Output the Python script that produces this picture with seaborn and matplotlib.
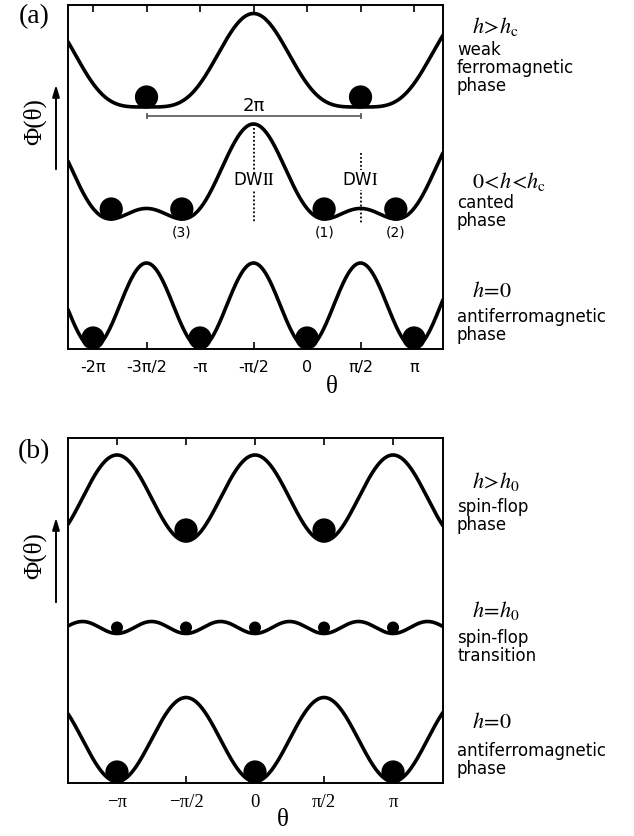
import numpy as np
import pandas as pd
import seaborn as sns
import matplotlib
matplotlib.use("Agg")
import matplotlib.pyplot as plt

# ---- panel (a): Phi(theta) = sin^2(theta) - h sin(theta) ----
a_fields = [2.0, 1.0, 0.0]
a_math = [r"$h\!>\!h_{\rm c}$", r"$0\!<\!h\!<\!h_{\rm c}$", r"$h\!=\!0$"]
a_phase = ["weak\nferromagnetic\nphase", "canted\nphase", "antiferromagnetic\nphase"]
a_balls = [[-1.5, 0.5], [-1.83, -1.17, 0.16, 0.83], [-2.0, -1.0, 0.0, 1.0]]  # theta / pi
a_tag_pos = [-1.17, 0.16, 0.83]
a_tags = ["(3)", "(1)", "(2)"]
a_ticks = [-2.0, -1.5, -1.0, -0.5, 0.0, 0.5, 1.0]
a_ticklabels = ["-2π", "-3π/2", "-π", "-π/2", "0", "π/2", "π"]

# ---- panel (b): Phi(theta) = A sin^2(theta) + B sin^2(2 theta) ----
b_coef_a = [-1.0, 0.0, 1.0]
b_coef_b = [0.0, 1.0, 0.0]
b_math = [r"$h\!>\!h_0$", r"$h\!=\!h_0$", r"$h\!=\!0$"]
b_phase = ["spin-flop\nphase", "spin-flop\ntransition", "antiferromagnetic\nphase"]
b_balls = [[-0.5, 0.5], [-1.0, -0.5, 0.0, 0.5, 1.0], [-1.0, 0.0, 1.0]]
b_ticks = [-1.0, -0.5, 0.0, 0.5, 1.0]
b_ticklabels = ["−π", "−π/2", "0", "π/2", "π"]

# layout (pixel based vertical placement of each curve)
a_base, a_height = [242, 130, 1.5], [93.5, 95, 84.5]
b_base, b_height = [242, 149.5, 1.5], [86, 12, 84]
a_xlim, b_xlim = (-2.234, 1.271), (-1.355, 1.362)

sns.set_style("ticks")
plt.rcParams["font.family"] = ["DejaVu Sans"]
plt.rcParams["mathtext.fontset"] = "stix"
for k in ["text.color", "axes.labelcolor", "xtick.color", "ytick.color", "axes.edgecolor"]:
    plt.rcParams[k] = "black"

W, H = 634, 836
fig = plt.figure(figsize=(W / 100, H / 100), dpi=100)


def fx(x):
    return x / W


def fy(y):
    return 1 - y / H


def pot_a(t, h):
    return np.sin(t) ** 2 - h * np.sin(t)


def pot_b(t, ca, cb):
    return ca * np.sin(t) ** 2 + cb * np.sin(2 * t) ** 2


def draw_panel(ax, xlim, funcs, params, base, height, balls, ball_sizes, ball_off):
    grid = np.linspace(xlim[0], xlim[1], 800)
    rows, brows = [], []
    for i, p in enumerate(params):
        phi = funcs(grid * np.pi, *p)
        lo, hi = phi.min(), phi.max()
        y = base[i] + height[i] * (phi - lo) / (hi - lo)
        rows.append(pd.DataFrame({"theta": grid, "y": y, "curve": i}))
        bt = np.array(balls[i])
        by = base[i] + height[i] * (funcs(bt * np.pi, *p) - lo) / (hi - lo) + ball_off[i]
        brows.append(pd.DataFrame({"theta": bt, "y": by, "curve": i}))
    df = pd.concat(rows)
    sns.lineplot(data=df, x="theta", y="y", units="curve", estimator=None, sort=False,
                 color="black", lw=2.6, ax=ax)
    for i, bd in enumerate(brows):
        sns.scatterplot(data=bd, x="theta", y="y", s=ball_sizes[i], color="black",
                        edgecolor="none", ax=ax, zorder=5)
    ax.set_xlim(*xlim)
    ax.set_xlabel("")
    ax.set_ylabel("")
    ax.set_yticks([])
    for s in ax.spines.values():
        s.set_linewidth(1.4)
        s.set_visible(True)
        s.set_color("black")
    ax.tick_params(axis="x", direction="in", top=True, bottom=True, length=5, width=1.2,
                   pad=8, colors="black")


# ---------------- panel (a) ----------------
axa = fig.add_axes([fx(68), fy(349), fx(443) - fx(68), fy(5) - fy(349)])
draw_panel(axa, a_xlim, pot_a, [(h,) for h in a_fields], a_base, a_height, a_balls,
           [280, 280, 280], [10, 10, 9.5])
axa.set_ylim(0, 344)
axa.set_xticks(a_ticks)
axa.set_xticklabels(a_ticklabels, fontsize=11.5)

# 2pi period bar
axa.plot([-1.5, 0.5], [233, 233], color="#555555", lw=1.2)
axa.plot([-1.5, 0.5], [233, 233], ls="none", marker="|", ms=5, mew=1.2, color="#555555")
axa.text(-0.5, 243, "2π", fontsize=13, ha="center", va="center")
# domain walls
axa.plot([-0.5, -0.5], [225, 126], color="black", lw=1.3, ls=(0, (1, 1.2)))
axa.plot([0.5, 0.5], [196, 126], color="black", lw=1.3, ls=(0, (1, 1.2)))
for x, lab in [(-0.5, r"DW$\mathrm{II}$"), (0.5, r"DW$\mathrm{I}$")]:
    axa.text(x, 169, lab, fontsize=12, ha="center", va="center",
             bbox=dict(facecolor="white", edgecolor="none", pad=0.5))
for x, lab in zip(a_tag_pos, a_tags):
    axa.text(x, 116, lab, fontsize=10, ha="center", va="center")

# ---------------- panel (b) ----------------
axb = fig.add_axes([fx(68), fy(783), fx(443) - fx(68), fy(438) - fy(783)])
draw_panel(axb, b_xlim, pot_b, list(zip(b_coef_a, b_coef_b)), b_base, b_height, b_balls,
           [280, 75, 280], [11, 6, 9.5])
axb.set_ylim(0, 345)
axb.set_xticks(b_ticks)
axb.set_xticklabels(b_ticklabels, fontsize=13.5, family=["Liberation Serif"])

# ---------------- side texts ----------------
for lab, yb in zip(a_math, [33, 188, 297]):
    fig.text(fx(472), fy(yb), lab, fontsize=16, ha="left", va="baseline")
for lab, yt in zip(a_phase, [41, 194, 308]):
    fig.text(fx(457), fy(yt), lab, fontsize=12, ha="left", va="top", linespacing=1.0)
for lab, yb in zip(b_math, [488, 617, 728]):
    fig.text(fx(472), fy(yb), lab, fontsize=16, ha="left", va="baseline")
for lab, yt in zip(b_phase, [498, 629, 742]):
    fig.text(fx(457), fy(yt), lab, fontsize=12, ha="left", va="top", linespacing=1.0)

for lab, yc in [("(a)", 17), ("(b)", 452)]:
    fig.text(fx(34), fy(yc), lab, fontsize=20, ha="center", va="center",
             family=["Liberation Serif"])
for xc, yc in [(332, 387), (283, 820)]:
    fig.text(fx(xc), fy(yc), "θ", fontsize=18, ha="center", va="center",
             family=["Liberation Serif"])
for yc, (y0, y1) in [(122, (172, 82)), (556, (605, 515))]:
    fig.text(fx(35), fy(yc), "Φ(θ)", fontsize=18, rotation=90, ha="center", va="center",
             family=["Liberation Serif"])
    fig.add_artist(matplotlib.patches.FancyArrowPatch(
        (fx(56), fy(y0)), (fx(56), fy(y1)), transform=fig.transFigure,
        arrowstyle="-|>,head_length=0.5,head_width=0.15", mutation_scale=14,
        color="black", lw=1.4))

fig.savefig("out.png", dpi=100)
